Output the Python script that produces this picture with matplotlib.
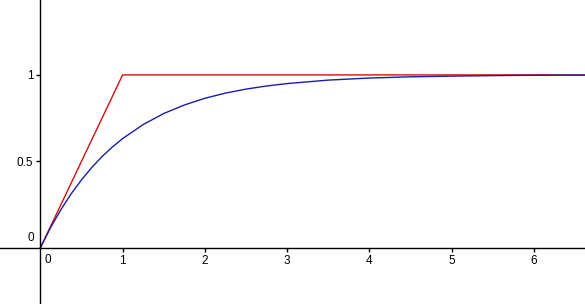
import matplotlib.pyplot as plt

plt.rcParams['font.family'] = ['Liberation Sans', 'DejaVu Sans']

# values
blue_x = [0, 0.125, 0.25, 0.375, 0.5, 0.625, 0.75, 0.875, 1.0, 1.25, 1.5, 1.75, 2.0,
          2.25, 2.5, 2.75, 3.0, 3.5, 4.0, 4.5, 5.0, 5.5, 6.0, 6.7]
blue_y = [0, 0.118, 0.221, 0.313, 0.393, 0.465, 0.528, 0.583, 0.632, 0.713, 0.777, 0.826, 0.865,
          0.895, 0.918, 0.936, 0.950, 0.970, 0.982, 0.989, 0.993, 0.996, 0.998, 0.999]
red_x = [0, 1, 6.7]
red_y = [0, 1, 1]

x_ticks = [1, 2, 3, 4, 5, 6]
y_ticks = [0.5, 1]

fig = plt.figure(figsize=(5.85, 3.04), dpi=100)
ax = fig.add_axes([0, 0, 1, 1])

ax.plot(red_x, red_y, color='#d01010', lw=1.0)
ax.plot(blue_x, blue_y, color='#1c1ca8', lw=1.0)

ax.set_xlim(-0.49, 6.62)
ax.set_ylim(-0.324, 1.433)

for s in ['top', 'right']:
    ax.spines[s].set_visible(False)
ax.spines['left'].set_position(('data', 0))
ax.spines['bottom'].set_position(('data', 0))
ax.spines['left'].set_linewidth(1.0)
ax.spines['bottom'].set_linewidth(1.0)

ax.set_xticks(x_ticks)
ax.set_xticklabels([str(t) for t in x_ticks])
ax.set_yticks(y_ticks)
ax.set_yticklabels(['0.5', '1'])
ax.tick_params(direction='out', length=3, width=1, labelsize=8.5, pad=2)

ax.text(0.05, -0.035, '0', fontsize=8.5, ha='left', va='top')
ax.text(-0.08, 0.025, '0', fontsize=8.5, ha='right', va='bottom')

fig.savefig('out.png', dpi=100)
